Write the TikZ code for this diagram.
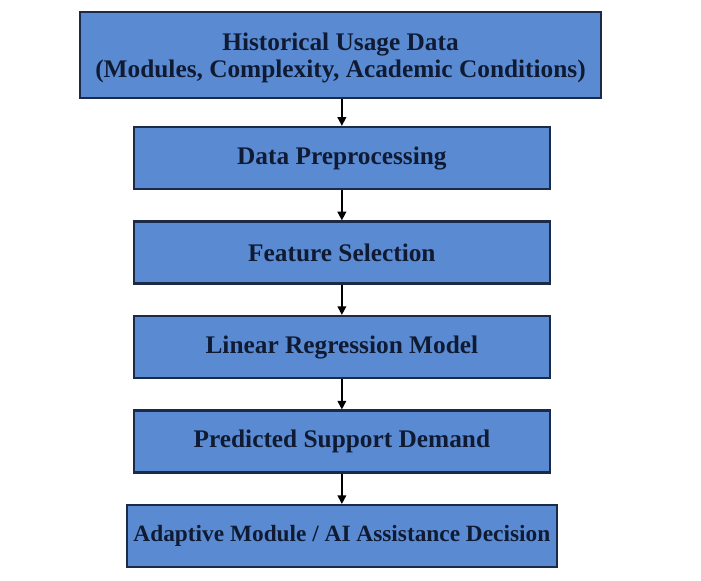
\documentclass[tikz,border=0pt]{standalone}
\usepackage{fontspec}
\setmainfont{Liberation Serif}
\usepackage{xcolor}
\usetikzlibrary{arrows.meta,positioning}
\definecolor{BoxFill}{HTML}{5A8BD2}
\definecolor{BoxLine}{HTML}{1B2A47}
\definecolor{BoxText}{HTML}{101B33}
\tikzset{
  stage/.style={draw=BoxLine,fill=BoxFill,line width=1.8pt,minimum width=312pt,minimum height=46.5pt,align=center,font=\fontsize{19}{20.5}\selectfont\bfseries,text=BoxText,inner sep=0pt},
  arr/.style={-{Triangle[length=6.5pt,width=6.5pt]},draw=black,line width=1.2pt}
}
\begin{document}
\begin{tikzpicture}[node distance=22.6pt]
  \useasboundingbox (0,0) rectangle (525.75pt,-435.75pt);
  \node[stage,minimum width=390.75pt,minimum height=64.5pt,text depth=0pt] (usage) at (255.4pt,-41.25pt) {Historical Usage Data\\(Modules, Complexity, Academic Conditions)};
  \node[stage,below=20pt of usage,xshift=1pt] (prep) {Data Preprocessing};
  \node[stage,below=of prep] (feat) {Feature Selection};
  \node[stage,below=of feat] (model) {Linear Regression Model};
  \node[stage,below=of model] (demand) {Predicted Support Demand};
  \node[stage,minimum width=322.5pt,font=\fontsize{17.5}{20}\selectfont\bfseries,below=of demand] (decision) {Adaptive Module / AI Assistance Decision};
  % arrows between the stages
  \draw[arr] (usage.south -| prep) -- (prep);
  \draw[arr] (prep) -- (feat);
  \draw[arr] (feat) -- (model);
  \draw[arr] (model) -- (demand);
  \draw[arr] (demand) -- (decision);
\end{tikzpicture}
\end{document}
